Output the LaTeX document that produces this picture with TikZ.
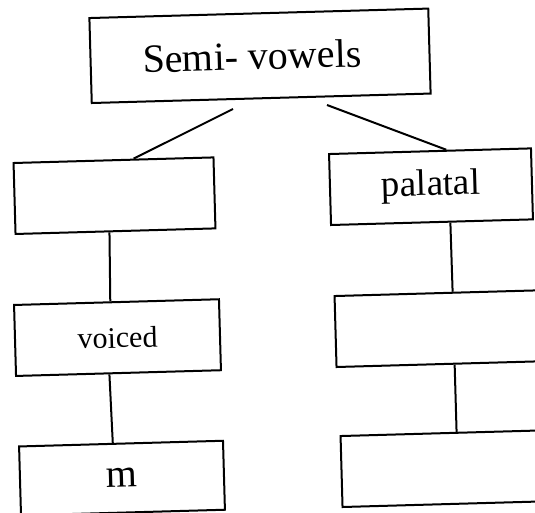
\documentclass[tikz,border=0pt]{standalone}
\usepackage{fontspec}
\setmainfont{Liberation Serif}
\usetikzlibrary{calc}
\tikzset{
  box/.style={draw, line width=2pt, rotate=1.6, inner sep=0pt, minimum height=71pt, font=\fontsize{30}{32}\selectfont},
  link/.style={line width=2pt}
}
\begin{document}
\begin{tikzpicture}[x=1pt,y=-1pt]
\useasboundingbox (0,0) rectangle (535,513);
\clip (0,0) rectangle (535,513);
\node[box, minimum width=339pt, minimum height=85pt, font=\fontsize{40}{44}\selectfont] (top) at (260,55.8) {Semi- vowels\hspace*{16pt}};
\node[box, minimum width=200pt] (L1) at (114.5,195.7) {};
\node[box, minimum width=202pt, font=\fontsize{37}{40}\selectfont] (R1) at (431,186.7) {palatal};
\node[box, minimum width=205pt] (L2) at (117.5,337.6) {voiced};
\node[box, minimum width=202pt] (R2) at (436.5,328.7) {};
\node[box, minimum width=204pt, minimum height=69pt, font=\fontsize{40}{42}\selectfont] (L3) at (122,478.1) {m};
\node[box, minimum width=202pt] (R3) at (442.5,468.7) {};
\coordinate (s1) at (233,109);
\coordinate (s2) at (327,105);
\draw[link] (s1) -- ($(L1.north west)!0.6!(L1.north east)$);
\draw[link] (s2) -- ($(R1.north west)!0.58!(R1.north east)$);
\draw[link] ($(L1.south west)!0.47!(L1.south east)$) -- ($(L2.north west)!0.47!(L2.north east)$);
\draw[link] ($(L2.south west)!0.456!(L2.south east)$) -- ($(L3.north west)!0.46!(L3.north east)$);
\draw[link] ($(R1.south west)!0.59!(R1.south east)$) -- ($(R2.north west)!0.584!(R2.north east)$);
\draw[link] ($(R2.south west)!0.584!(R2.south east)$) -- ($(R3.north west)!0.574!(R3.north east)$);
\end{tikzpicture}
\end{document}
